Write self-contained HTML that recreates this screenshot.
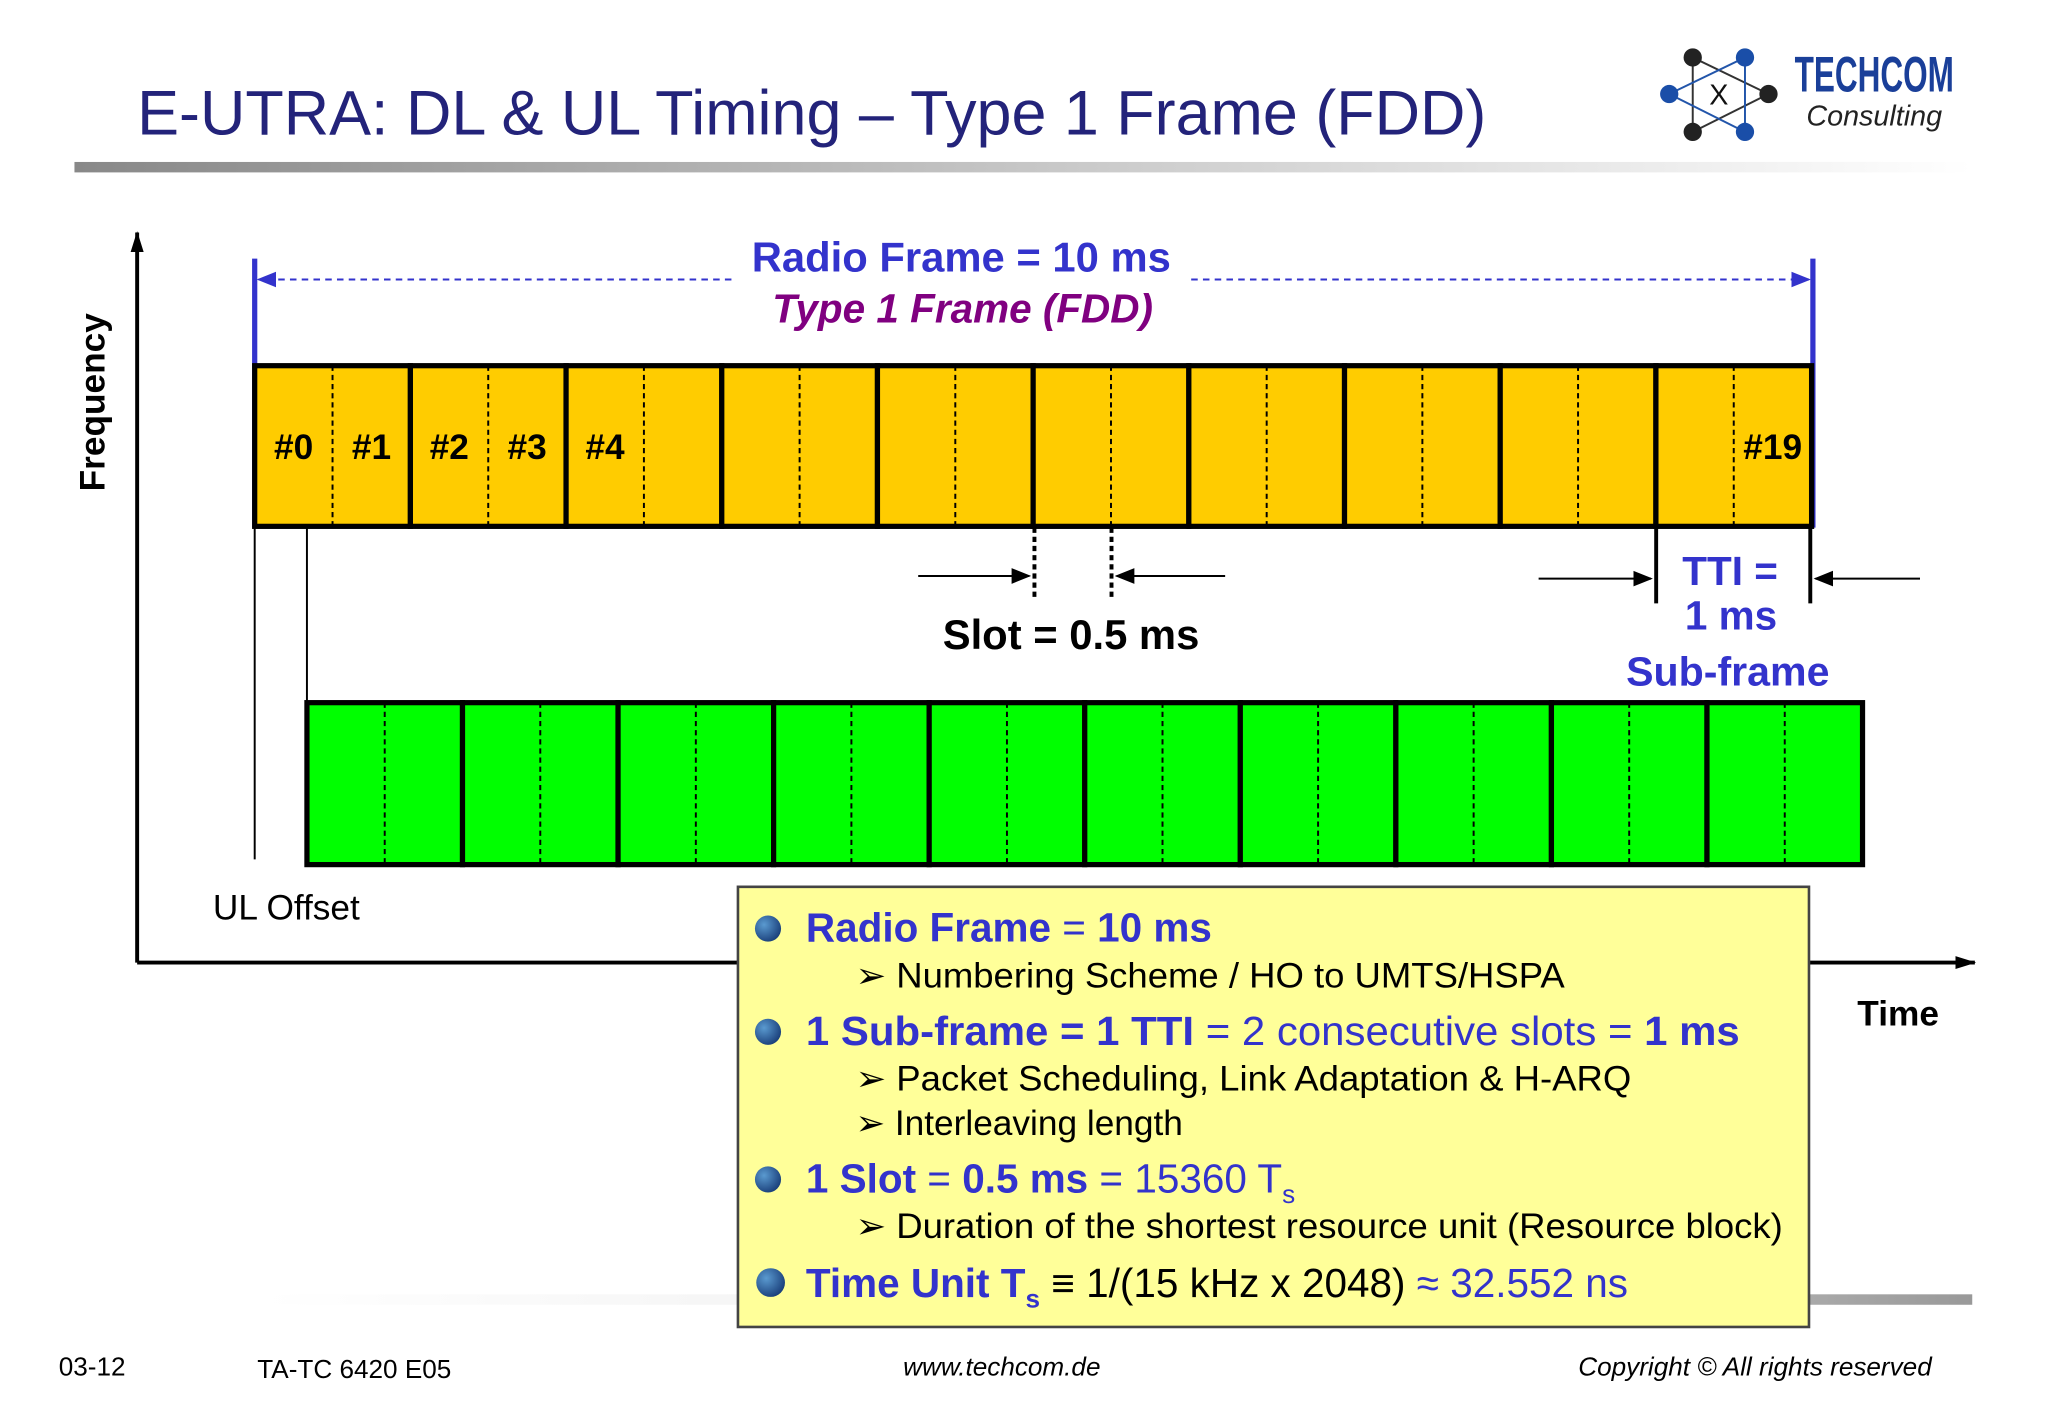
<!DOCTYPE html>
<html><head><meta charset="utf-8"><style>
html,body{margin:0;padding:0;background:#fff}
svg{display:block}
text{font-family:"Liberation Sans",sans-serif}
</style></head><body>
<svg width="2048" height="1418" viewBox="0 0 1568 1085.7" preserveAspectRatio="none" xmlns="http://www.w3.org/2000/svg">
<defs>
<linearGradient id="gb" x1="0" x2="1"><stop offset="0" stop-color="#888"/><stop offset="0.55" stop-color="#ccc"/><stop offset="1" stop-color="#fff"/></linearGradient>
<linearGradient id="gb2" x1="0" x2="1"><stop offset="0" stop-color="#fff"/><stop offset="0.5" stop-color="#eee"/><stop offset="1" stop-color="#999"/></linearGradient>
<radialGradient id="bul" cx="0.35" cy="0.35" r="0.7"><stop offset="0" stop-color="#5a9ad0"/><stop offset="1" stop-color="#1a3f7a"/></radialGradient>
<marker id="ah" markerWidth="10" markerHeight="10" refX="9" refY="5" orient="auto"><path d="M0,1 L10,5 L0,9z" fill="#000"/></marker>
<marker id="ax" markerUnits="userSpaceOnUse" markerWidth="16" markerHeight="12" refX="15" refY="6" orient="auto"><path d="M0,1 L16,6 L0,11z" fill="#000"/></marker>
<marker id="ab" markerWidth="10" markerHeight="10" refX="9" refY="5" orient="auto"><path d="M0,1 L10,5 L0,9z" fill="#3333cc"/></marker>
</defs>
<text x="105" y="103" font-size="48" fill="#23237a" textLength="1033" lengthAdjust="spacingAndGlyphs">E-UTRA: DL &amp; UL Timing – Type 1 Frame (FDD)</text>
<rect x="57" y="124" width="1453" height="8" fill="url(#gb)"/>
<g>
<g stroke-width="1.5" fill="none"><path d="M1296,44 L1296,101 L1354,72z" stroke="#333"/><path d="M1336,44 L1336,101 L1278,72z" stroke="#2255aa"/></g>
<circle cx="1296" cy="44" r="7" fill="#222"/><circle cx="1336" cy="44" r="7" fill="#1a4ea8"/><circle cx="1278" cy="72" r="7" fill="#1a4ea8"/><circle cx="1354" cy="72" r="7" fill="#222"/><circle cx="1296" cy="101" r="7" fill="#222"/><circle cx="1336" cy="101" r="7" fill="#1a4ea8"/>
<text x="1316" y="80" font-size="22" text-anchor="middle" fill="#111">X</text>
<text x="1374" y="70" font-size="38" font-weight="bold" fill="#1a3f99" textLength="122" lengthAdjust="spacingAndGlyphs">TECHCOM</text>
<text x="1383" y="96" font-size="22" font-style="italic" fill="#222" font-family="Liberation Serif">Consulting</text>
</g>
<line x1="105" y1="737" x2="105" y2="178" stroke="#000" stroke-width="3" marker-end="url(#ax)"/>
<line x1="105" y1="737" x2="1512" y2="737" stroke="#000" stroke-width="3" marker-end="url(#ax)"/>
<text transform="translate(80,308) rotate(-90)" font-size="27" font-weight="bold" text-anchor="middle">Frequency</text>
<text x="1422" y="785" font-size="27" font-weight="bold">Time</text>
<line x1="195" y1="198" x2="195" y2="404" stroke="#3333cc" stroke-width="4"/>
<line x1="1388" y1="198" x2="1388" y2="404" stroke="#3333cc" stroke-width="4"/>
<line x1="560" y1="214" x2="198" y2="214" stroke="#3333cc" stroke-width="1.5" stroke-dasharray="5,4" marker-end="url(#ab)"/>
<line x1="912" y1="214" x2="1385" y2="214" stroke="#3333cc" stroke-width="1.5" stroke-dasharray="5,4" marker-end="url(#ab)"/>
<text x="736" y="208" font-size="32" font-weight="bold" fill="#3333cc" text-anchor="middle">Radio Frame = 10 ms</text>
<text x="737" y="247" font-size="31" font-weight="bold" font-style="italic" fill="#800080" text-anchor="middle">Type 1 Frame (FDD)</text>
<g id="dl"></g>
<g id="ul"></g>
<line x1="792" y1="404" x2="792" y2="460" stroke="#000" stroke-width="3" stroke-dasharray="4,3"/>
<line x1="851" y1="404" x2="851" y2="460" stroke="#000" stroke-width="3" stroke-dasharray="4,3"/>
<line x1="703" y1="441" x2="788" y2="441" stroke="#000" stroke-width="1.5" marker-end="url(#ah)"/>
<line x1="938" y1="441" x2="855" y2="441" stroke="#000" stroke-width="1.5" marker-end="url(#ah)"/>
<text x="820" y="497" font-size="32" font-weight="bold" text-anchor="middle">Slot = 0.5 ms</text>
<line x1="1268" y1="404" x2="1268" y2="462" stroke="#000" stroke-width="3"/>
<line x1="1386" y1="404" x2="1386" y2="462" stroke="#000" stroke-width="3"/>
<line x1="1178" y1="443" x2="1264" y2="443" stroke="#000" stroke-width="1.5" marker-end="url(#ah)"/>
<line x1="1470" y1="443" x2="1390" y2="443" stroke="#000" stroke-width="1.5" marker-end="url(#ah)"/>
<text x="1288" y="448" font-size="31" font-weight="bold" fill="#3333cc">TTI =</text>
<text x="1290" y="482" font-size="31" font-weight="bold" fill="#3333cc">1 ms</text>
<text x="1245" y="525" font-size="31.5" font-weight="bold" fill="#3333cc">Sub-frame</text>
<line x1="195" y1="404" x2="195" y2="658" stroke="#000" stroke-width="1.5"/>
<line x1="235" y1="404" x2="235" y2="538" stroke="#000" stroke-width="1.5"/>
<text x="163" y="704" font-size="27">UL Offset</text>
<rect x="200" y="991" width="1310" height="8" fill="url(#gb2)"/>
<g>
<rect x="565" y="679" width="820" height="337" fill="#ffff99" stroke="#444" stroke-width="2"/>
<g fill="url(#bul)"><circle cx="588" cy="711" r="10"/><circle cx="588" cy="790" r="10"/><circle cx="588" cy="903" r="10"/><circle cx="590" cy="982" r="11"/></g>
<g font-size="31" fill="#3333cc">
<text x="617" y="721"><tspan font-weight="bold">Radio Frame</tspan> = <tspan font-weight="bold">10 ms</tspan></text>
<text x="617" y="800" textLength="715" lengthAdjust="spacingAndGlyphs"><tspan font-weight="bold">1 Sub-frame = 1 TTI</tspan> = 2 consecutive slots = <tspan font-weight="bold">1 ms</tspan></text>
<text x="617" y="913"><tspan font-weight="bold">1 Slot</tspan> = <tspan font-weight="bold">0.5 ms</tspan> = 15360 T<tspan font-size="20" dy="8">s</tspan></text>
<text x="617" y="993"><tspan font-weight="bold">Time Unit T</tspan><tspan font-size="20" dy="8" font-weight="bold">s</tspan><tspan dy="-8" fill="#000"> ≡ 1/(15 kHz x 2048)</tspan> ≈ 32.552 ns</text>
</g>
<g font-size="27" fill="#000">
<text x="655" y="756" textLength="543" lengthAdjust="spacingAndGlyphs">➢ Numbering Scheme / HO to UMTS/HSPA</text>
<text x="655" y="835" textLength="594" lengthAdjust="spacingAndGlyphs">➢ Packet Scheduling, Link Adaptation &amp; H-ARQ</text>
<text x="655" y="869">➢ Interleaving length</text>
<text x="655" y="948" textLength="710" lengthAdjust="spacingAndGlyphs">➢ Duration of the shortest resource unit (Resource block)</text>
</g>
</g>
<g font-size="20">
<text x="45" y="1053">03-12</text>
<text x="197" y="1055">TA-TC 6420 E05</text>
<text x="767" y="1053" font-style="italic" text-anchor="middle">www.techcom.de</text>
<text x="1479" y="1053" font-style="italic" text-anchor="end">Copyright ©  All rights reserved</text>
</g>
</svg>
<script>
const subframes=[0,1,2,3,4,5,6,7,8,9];
const slotLabels=["#0","#1","#2","#3","#4","","","","","","","","","","","","","","","#19"];
const NS="http://www.w3.org/2000/svg";
function mk(t,a,p){const e=document.createElementNS(NS,t);for(const k in a)e.setAttribute(k,a[k]);p.appendChild(e);return e;}
function drawFrame(g,x0,y0,w,h,fill,labels){
  const sw=w/subframes.length;
  subframes.forEach(i=>{
    const r=mk('rect',{x:x0+i*sw,y:y0,width:sw,height:h,fill:fill,stroke:'#000','stroke-width':4},g);
    
    
    const l=mk('line',{x1:x0+i*sw+sw/2,y1:y0,x2:x0+i*sw+sw/2,y2:y0+h,stroke:'#000','stroke-width':1.5,'stroke-dasharray':'4,3'},g);
    
    
  });
  if(labels){labels.forEach((s,j)=>{if(!s)return;
    const t=mk('text',{x:x0+(j+0.5)*sw/2,y:y0+h/2+10,'font-size':27,'font-weight':'bold','text-anchor':'middle'},g);
    t.textContent=s;
    
    
  });}
}
drawFrame(document.getElementById('dl'),195,280,1192,123,'#ffcc00',slotLabels);
drawFrame(document.getElementById('ul'),235,538,1191,124,'#00ff00',null);
</script>
</body></html>
